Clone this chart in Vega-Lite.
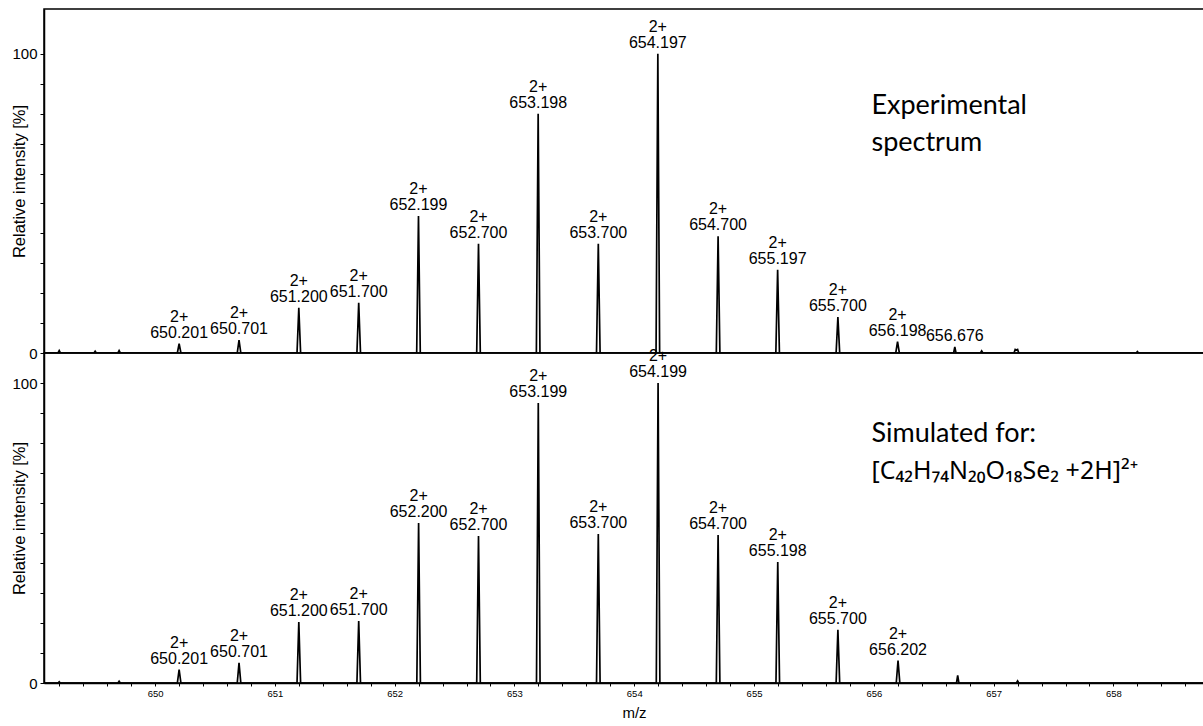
{
  "$schema": "https://vega.github.io/schema/vega-lite/v6.json",
  "padding": {"left": 11, "top": 8, "right": 0, "bottom": 0},
  "background": "white",
  "spacing": 0,
  "bounds": "flush",
  "config": {
    "view": {"stroke": "black", "strokeWidth": 1.5},
    "axis": {"grid": false, "domainColor": "black", "tickColor": "black", "labelColor": "black", "titleColor": "black", "labelFont": "Liberation Sans", "titleFont": "Liberation Sans", "titleFontWeight": "normal", "domainWidth": 1.5, "tickWidth": 1},
    "text": {"font": "Liberation Sans", "color": "black"}
  },
  "datasets": {
    "exp": [
      {"mz": 649.073, "intensity": 0},
      {"mz": 649.19, "intensity": 0}, {"mz": 649.2, "intensity": 0.8}, {"mz": 649.21, "intensity": 0},
      {"mz": 649.49, "intensity": 0}, {"mz": 649.5, "intensity": 0.6}, {"mz": 649.51, "intensity": 0},
      {"mz": 649.69, "intensity": 0}, {"mz": 649.7, "intensity": 0.8}, {"mz": 649.71, "intensity": 0},
      {"mz": 650.186, "intensity": 0}, {"mz": 650.201, "intensity": 3.1}, {"mz": 650.216, "intensity": 0},
      {"mz": 650.686, "intensity": 0}, {"mz": 650.701, "intensity": 4.3}, {"mz": 650.716, "intensity": 0},
      {"mz": 651.185, "intensity": 0}, {"mz": 651.2, "intensity": 15.1}, {"mz": 651.215, "intensity": 0},
      {"mz": 651.685, "intensity": 0}, {"mz": 651.7, "intensity": 16.8}, {"mz": 651.715, "intensity": 0},
      {"mz": 652.184, "intensity": 0}, {"mz": 652.199, "intensity": 45.8}, {"mz": 652.214, "intensity": 0},
      {"mz": 652.685, "intensity": 0}, {"mz": 652.7, "intensity": 36.5}, {"mz": 652.715, "intensity": 0},
      {"mz": 653.183, "intensity": 0}, {"mz": 653.198, "intensity": 80}, {"mz": 653.213, "intensity": 0},
      {"mz": 653.685, "intensity": 0}, {"mz": 653.7, "intensity": 36.5}, {"mz": 653.715, "intensity": 0},
      {"mz": 654.182, "intensity": 0}, {"mz": 654.197, "intensity": 100}, {"mz": 654.212, "intensity": 0},
      {"mz": 654.685, "intensity": 0}, {"mz": 654.7, "intensity": 39}, {"mz": 654.715, "intensity": 0},
      {"mz": 655.182, "intensity": 0}, {"mz": 655.197, "intensity": 27.8}, {"mz": 655.212, "intensity": 0},
      {"mz": 655.685, "intensity": 0}, {"mz": 655.7, "intensity": 12}, {"mz": 655.715, "intensity": 0},
      {"mz": 656.183, "intensity": 0}, {"mz": 656.198, "intensity": 3.8}, {"mz": 656.213, "intensity": 0},
      {"mz": 656.666, "intensity": 0}, {"mz": 656.676, "intensity": 2}, {"mz": 656.686, "intensity": 0},
      {"mz": 656.89, "intensity": 0}, {"mz": 656.9, "intensity": 0.7}, {"mz": 656.91, "intensity": 0},
      {"mz": 657.17, "intensity": 0}, {"mz": 657.18, "intensity": 1.2}, {"mz": 657.19, "intensity": 1.0}, {"mz": 657.2, "intensity": 1.2}, {"mz": 657.21, "intensity": 0},
      {"mz": 658.19, "intensity": 0}, {"mz": 658.2, "intensity": 0.5}, {"mz": 658.21, "intensity": 0},
      {"mz": 658.923, "intensity": 0}
    ],
    "sim": [
      {"mz": 649.073, "intensity": 0},
      {"mz": 649.19, "intensity": 0}, {"mz": 649.2, "intensity": 0.4}, {"mz": 649.21, "intensity": 0},
      {"mz": 649.69, "intensity": 0}, {"mz": 649.7, "intensity": 0.6}, {"mz": 649.71, "intensity": 0},
      {"mz": 650.186, "intensity": 0}, {"mz": 650.201, "intensity": 4.5}, {"mz": 650.216, "intensity": 0},
      {"mz": 650.686, "intensity": 0}, {"mz": 650.701, "intensity": 6.7}, {"mz": 650.716, "intensity": 0},
      {"mz": 651.185, "intensity": 0}, {"mz": 651.2, "intensity": 20.3}, {"mz": 651.215, "intensity": 0},
      {"mz": 651.685, "intensity": 0}, {"mz": 651.7, "intensity": 20.7}, {"mz": 651.715, "intensity": 0},
      {"mz": 652.185, "intensity": 0}, {"mz": 652.2, "intensity": 53.3}, {"mz": 652.215, "intensity": 0},
      {"mz": 652.685, "intensity": 0}, {"mz": 652.7, "intensity": 49}, {"mz": 652.715, "intensity": 0},
      {"mz": 653.184, "intensity": 0}, {"mz": 653.199, "intensity": 93.3}, {"mz": 653.214, "intensity": 0},
      {"mz": 653.685, "intensity": 0}, {"mz": 653.7, "intensity": 49.7}, {"mz": 653.715, "intensity": 0},
      {"mz": 654.184, "intensity": 0}, {"mz": 654.199, "intensity": 100}, {"mz": 654.214, "intensity": 0},
      {"mz": 654.685, "intensity": 0}, {"mz": 654.7, "intensity": 49.3}, {"mz": 654.715, "intensity": 0},
      {"mz": 655.183, "intensity": 0}, {"mz": 655.198, "intensity": 40.3}, {"mz": 655.213, "intensity": 0},
      {"mz": 655.685, "intensity": 0}, {"mz": 655.7, "intensity": 17.7}, {"mz": 655.715, "intensity": 0},
      {"mz": 656.187, "intensity": 0}, {"mz": 656.202, "intensity": 7.5}, {"mz": 656.217, "intensity": 0},
      {"mz": 656.69, "intensity": 0}, {"mz": 656.7, "intensity": 2.5}, {"mz": 656.71, "intensity": 0},
      {"mz": 657.19, "intensity": 0}, {"mz": 657.2, "intensity": 0.7}, {"mz": 657.21, "intensity": 0},
      {"mz": 658.923, "intensity": 0}
    ],
    "expLabels": [
      {"mz": 650.201, "intensity": 3.1, "charge": "2+", "label": "650.201"},
      {"mz": 650.701, "intensity": 4.3, "charge": "2+", "label": "650.701"},
      {"mz": 651.2, "intensity": 15.1, "charge": "2+", "label": "651.200"},
      {"mz": 651.7, "intensity": 16.8, "charge": "2+", "label": "651.700"},
      {"mz": 652.199, "intensity": 45.8, "charge": "2+", "label": "652.199"},
      {"mz": 652.7, "intensity": 36.5, "charge": "2+", "label": "652.700"},
      {"mz": 653.198, "intensity": 80, "charge": "2+", "label": "653.198"},
      {"mz": 653.7, "intensity": 36.5, "charge": "2+", "label": "653.700"},
      {"mz": 654.197, "intensity": 100, "charge": "2+", "label": "654.197"},
      {"mz": 654.7, "intensity": 39, "charge": "2+", "label": "654.700"},
      {"mz": 655.197, "intensity": 27.8, "charge": "2+", "label": "655.197"},
      {"mz": 655.7, "intensity": 12, "charge": "2+", "label": "655.700"},
      {"mz": 656.198, "intensity": 3.8, "charge": "2+", "label": "656.198"},
      {"mz": 656.676, "intensity": 2, "charge": "", "label": "656.676"}
    ],
    "simLabels": [
      {"mz": 650.201, "intensity": 4.5, "charge": "2+", "label": "650.201"},
      {"mz": 650.701, "intensity": 6.7, "charge": "2+", "label": "650.701"},
      {"mz": 651.2, "intensity": 20.3, "charge": "2+", "label": "651.200"},
      {"mz": 651.7, "intensity": 20.7, "charge": "2+", "label": "651.700"},
      {"mz": 652.2, "intensity": 53.3, "charge": "2+", "label": "652.200"},
      {"mz": 652.7, "intensity": 49, "charge": "2+", "label": "652.700"},
      {"mz": 653.199, "intensity": 93.3, "charge": "2+", "label": "653.199"},
      {"mz": 653.7, "intensity": 49.7, "charge": "2+", "label": "653.700"},
      {"mz": 654.199, "intensity": 100, "charge": "2+", "label": "654.199"},
      {"mz": 654.7, "intensity": 49.3, "charge": "2+", "label": "654.700"},
      {"mz": 655.198, "intensity": 40.3, "charge": "2+", "label": "655.198"},
      {"mz": 655.7, "intensity": 17.7, "charge": "2+", "label": "655.700"},
      {"mz": 656.202, "intensity": 7.5, "charge": "2+", "label": "656.202"}
    ],
    "expNote": [
      {"mz": 655.98, "intensity": 82.6, "text": "Experimental"},
      {"mz": 655.98, "intensity": 70.2, "text": "spectrum"}
    ],
    "simNote": [
      {"mz": 655.98, "intensity": 83.0, "text": "Simulated for:"}
    ],
    "simFormula": [
      {"mz": 655.98, "intensity": 70.7, "text": "[C₄₂H₇₄N₂₀O₁₈Se₂ +2H]²⁺"}
    ]
  },
  "vconcat": [
    {
      "width": 1180,
      "height": 344,
      "encoding": {
        "x": {"field": "mz", "type": "quantitative", "scale": {"domain": [649.073, 658.923], "nice": false, "zero": false}, "axis": null},
        "y": {"field": "intensity", "type": "quantitative", "scale": {"domain": [0, 115], "nice": false, "zero": true},
          "axis": {"values": [0, 10, 20, 30, 40, 50, 60, 70, 80, 90, 100], "labelExpr": "datum.value == 0 || datum.value == 100 ? datum.label : ''", "tickSize": 4, "labelPadding": 3, "labelFontSize": 15, "title": "Relative intensity [%]", "titleFontSize": 16.5, "titlePadding": -16, "labelOverlap": false, "labelFlush": false}}
      },
      "layer": [
        {"data": {"name": "exp"}, "mark": {"type": "line", "color": "black", "strokeWidth": 1.7, "clip": true}},
        {"data": {"name": "expLabels"}, "mark": {"type": "text", "dy": -11, "fontSize": 16, "baseline": "middle"}, "encoding": {"text": {"field": "label"}}},
        {"data": {"name": "expLabels"}, "mark": {"type": "text", "dy": -27, "fontSize": 16, "baseline": "middle"}, "encoding": {"text": {"field": "charge"}}},
        {"data": {"name": "expNote"}, "mark": {"type": "text", "align": "left", "baseline": "middle", "font": "Lato", "fontSize": 27}, "encoding": {"text": {"field": "text"}}}
      ]
    },
    {
      "width": 1180,
      "height": 330,
      "encoding": {
        "x": {"field": "mz", "type": "quantitative", "scale": {"domain": [649.073, 658.923], "nice": false, "zero": false},
          "axis": {"values": [649.2, 649.4, 649.6, 649.8, 650, 650.2, 650.4, 650.6, 650.8, 651, 651.2, 651.4, 651.6, 651.8, 652, 652.2, 652.4, 652.6, 652.8, 653, 653.2, 653.4, 653.6, 653.8, 654, 654.2, 654.4, 654.6, 654.8, 655, 655.2, 655.4, 655.6, 655.8, 656, 656.2, 656.4, 656.6, 656.8, 657, 657.2, 657.4, 657.6, 657.8, 658, 658.2, 658.4, 658.6, 658.8],
            "labelExpr": "abs(datum.value - round(datum.value)) < 0.01 ? format(datum.value, 'd') : ''", "tickSize": 3, "labelFontSize": 9.5, "labelPadding": 2, "title": "m/z", "titleFontSize": 15, "titlePadding": 8, "labelOverlap": false, "labelFlush": false}},
        "y": {"field": "intensity", "type": "quantitative", "scale": {"domain": [0, 110], "nice": false, "zero": true},
          "axis": {"values": [0, 10, 20, 30, 40, 50, 60, 70, 80, 90, 100], "labelExpr": "datum.value == 0 || datum.value == 100 ? datum.label : ''", "tickSize": 4, "labelPadding": 3, "labelFontSize": 15, "title": "Relative intensity [%]", "titleFontSize": 16.5, "titlePadding": -16, "labelOverlap": false, "labelFlush": false}}
      },
      "layer": [
        {"data": {"name": "sim"}, "mark": {"type": "line", "color": "black", "strokeWidth": 1.7, "clip": true}},
        {"data": {"name": "simLabels"}, "mark": {"type": "text", "dy": -11, "fontSize": 16, "baseline": "middle"}, "encoding": {"text": {"field": "label"}}},
        {"data": {"name": "simLabels"}, "mark": {"type": "text", "dy": -27, "fontSize": 16, "baseline": "middle"}, "encoding": {"text": {"field": "charge"}}},
        {"data": {"name": "simNote"}, "mark": {"type": "text", "align": "left", "baseline": "middle", "font": "Lato", "fontSize": 27}, "encoding": {"text": {"field": "text"}}},
        {"data": {"name": "simFormula"}, "mark": {"type": "text", "align": "left", "baseline": "middle", "font": "Noto Sans", "fontSize": 25}, "encoding": {"text": {"field": "text"}}}
      ]
    }
  ]
}
